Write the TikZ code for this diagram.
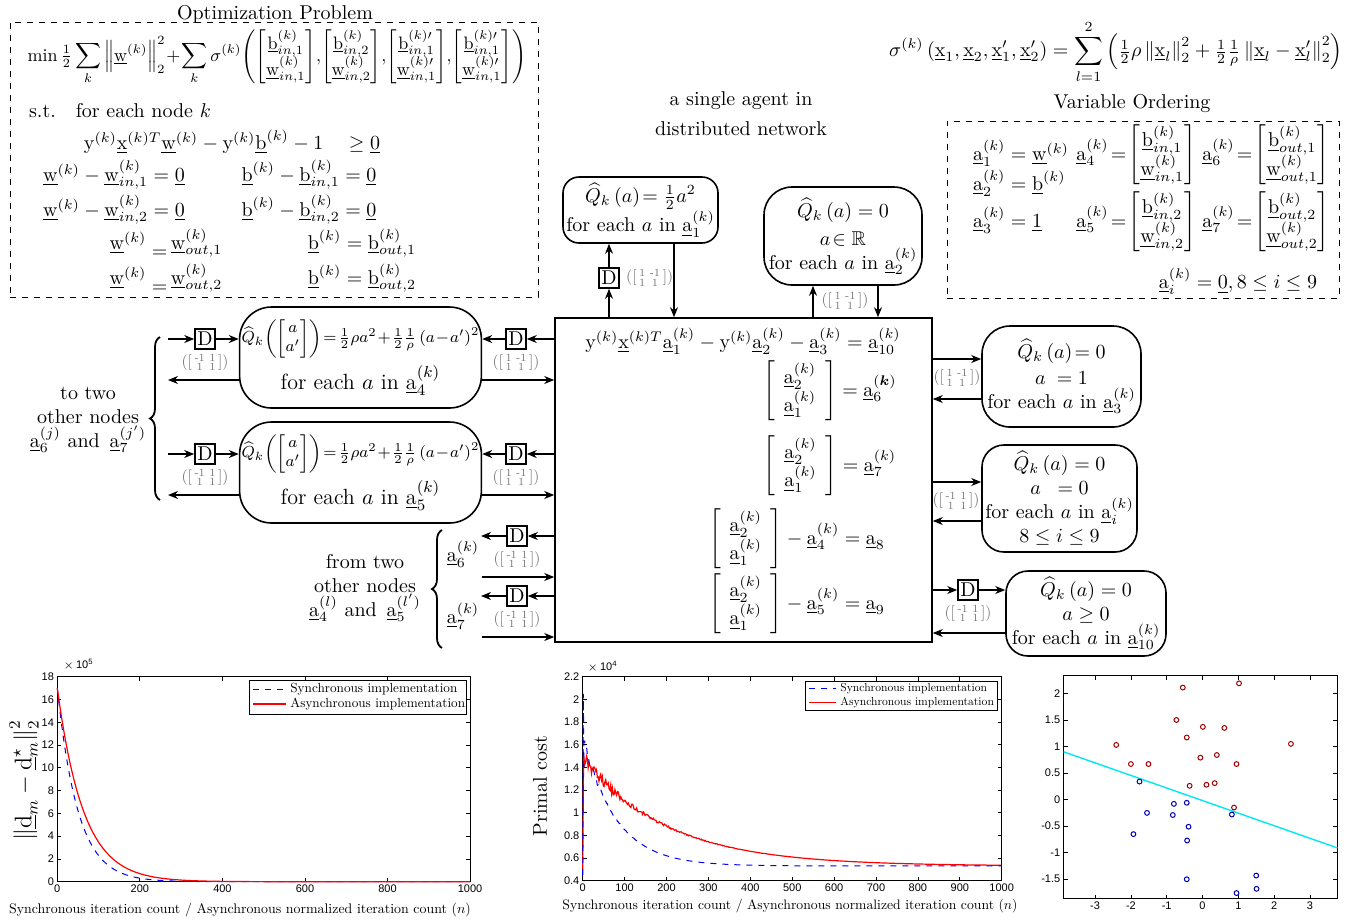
\documentclass[tikz,border=0pt]{standalone}
\usepackage{amsmath,amssymb}
\usepackage{graphicx}
\usepackage{fontspec}
\newfontfamily\tickfont{Liberation Sans}
\usetikzlibrary{arrows.meta,positioning,calc,decorations.pathreplacing}
\newcommand{\uvec}[1]{\underline{\mathrm{#1}}}
\newcommand{\mixmat}[2]{\textcolor{black!55}{\scalebox{0.78}{$\left(\left[\begin{smallmatrix}#1&#2\\1&1\end{smallmatrix}\right]\right)$}}}
\newcommand{\axistext}{Synchronous iteration count / Asynchronous normalized iteration count ($n$)}
\definecolor{ptred}{HTML}{A00000}
\definecolor{ptblue}{HTML}{0000B4}
\definecolor{sepcyan}{HTML}{00E8F0}
\tikzset{
  qbox/.style={draw, line width=0.8pt, rounded corners=#1, align=center, inner sep=1pt},
  qbox/.default=10pt,
  dbox/.style={draw, line width=0.8pt, inner sep=0.5pt, minimum width=10pt, minimum height=10pt},
  flow/.style={line width=0.75pt, -{Stealth[length=5pt,width=4pt]}},
  dashbox/.style={draw, dashed, line width=0.5pt},
  boxwh/.style 2 args={minimum width=#1*0.5pt, minimum height=#2*0.5pt},
  ticklab/.style={font=\tickfont\fontsize{5.5}{6}\selectfont, inner sep=1.5pt},
  legtxt/.style={anchor=west, inner sep=0pt},
  curly/.style={decorate, decoration={brace, amplitude=5pt}, line width=0.9pt},
}

\begin{document}
\begin{tikzpicture}[x=0.5pt,y=-0.5pt]
\useasboundingbox (0,0) rectangle (1360,923);

% optimization problem
\node (opttitle) at (275,14) {Optimization Problem};
\node[dashbox, boxwh={528}{275}] (optbox) at (274,159.5) {};
\node (objective) at (277,57) {\scalebox{0.9}{$\displaystyle\min\tfrac{1}{2}\sum_k\left\|\uvec{w}^{(k)}\right\|_2^2\!+\!\sum_k\sigma^{(k)}\!\left(\begin{bmatrix}\uvec{b}^{(k)}_{in,1}\\\uvec{w}^{(k)}_{in,1}\end{bmatrix}\!,\!\begin{bmatrix}\uvec{b}^{(k)}_{in,2}\\\uvec{w}^{(k)}_{in,2}\end{bmatrix}\!,\!\begin{bmatrix}\uvec{b}^{(k)\prime}_{in,1}\\\uvec{w}^{(k)\prime}_{in,1}\end{bmatrix}\!,\!\begin{bmatrix}\uvec{b}^{(k)\prime}_{in,1}\\\uvec{w}^{(k)\prime}_{in,1}\end{bmatrix}\right)$}};
\node[anchor=west] (st) at (22,111) {s.t.\quad for each node $k$};
\node (c0) at (232,142) {$\mathrm{y}^{(k)}\uvec{x}^{(k)T}\uvec{w}^{(k)}-\mathrm{y}^{(k)}\uvec{b}^{(k)}-1\quad\geq\uvec{0}$};
\node (cw1) at (114,175) {$\uvec{w}^{(k)}-\uvec{w}^{(k)}_{in,1}=\uvec{0}$};
\node (cb1) at (309,175) {$\uvec{b}^{(k)}-\uvec{b}^{(k)}_{in,1}=\uvec{0}$};
\node (cw2) at (114,210) {$\uvec{w}^{(k)}-\uvec{w}^{(k)}_{in,2}=\uvec{0}$};
\node (cb2) at (309,210) {$\uvec{b}^{(k)}-\uvec{b}^{(k)}_{in,2}=\uvec{0}$};
\node (cw3) at (166,243) {$\uvec{w}^{(k)}\;\lower4pt\hbox{$=$}\,\uvec{w}^{(k)}_{out,1}$};
\node (cb3) at (362,243) {$\uvec{b}^{(k)}=\uvec{b}^{(k)}_{out,1}$};
\node (cw4) at (166,278) {$\uvec{w}^{(k)}\;\lower4pt\hbox{$=$}\,\uvec{w}^{(k)}_{out,2}$};
\node (cb4) at (362,278) {$\uvec{b}^{(k)}=\uvec{b}^{(k)}_{out,2}$};

% penalty and variable ordering
\node (sigmadef) at (1116,52) {$\displaystyle\sigma^{(k)}\left(\uvec{x}_1,\uvec{x}_2,\uvec{x}_1',\uvec{x}_2'\right)=\sum_{l=1}^{2}\left(\tfrac{1}{2}\rho\left\|\uvec{x}_l\right\|_2^2+\tfrac{1}{2}\tfrac{1}{\rho}\left\|\uvec{x}_l-\uvec{x}_l'\right\|_2^2\right)$};
\node (vartitle) at (1132,104) {Variable Ordering};
\node[dashbox, boxwh={392}{177}] (varbox) at (1143,209.5) {};
\node[anchor=west] (va1) at (966,153) {$\uvec{a}_1^{(k)}=\uvec{w}^{(k)}$};
\node[anchor=west] (va2) at (966,183) {$\uvec{a}_2^{(k)}=\uvec{b}^{(k)}$};
\node[anchor=west] (va3) at (966,220) {$\uvec{a}_3^{(k)}=\uvec{1}$};
\node (va4) at (1136,155) {$\uvec{a}_4^{(k)}\!=\!\begin{bmatrix}\uvec{b}^{(k)}_{in,1}\\\uvec{w}^{(k)}_{in,1}\end{bmatrix}$};
\node (va5) at (1136,222) {$\uvec{a}_5^{(k)}\!=\!\begin{bmatrix}\uvec{b}^{(k)}_{in,2}\\\uvec{w}^{(k)}_{in,2}\end{bmatrix}$};
\node (va6) at (1266,155) {$\uvec{a}_6^{(k)}\!=\!\begin{bmatrix}\uvec{b}^{(k)}_{out,1}\\\uvec{w}^{(k)}_{out,1}\end{bmatrix}$};
\node (va7) at (1266,222) {$\uvec{a}_7^{(k)}\!=\!\begin{bmatrix}\uvec{b}^{(k)}_{out,2}\\\uvec{w}^{(k)}_{out,2}\end{bmatrix}$};
\node (vai) at (1238,281) {$\uvec{a}_i^{(k)}=\uvec{0},8\leq i\leq 9$};

% agent
\node[align=center] (agenttitle) at (741,114) {a single agent in\\[3pt]distributed network};
\node[draw, line width=0.8pt, boxwh={377}{324}] (agent) at (743.5,480) {};
\node (eq0) at (743,341) {$\mathrm{y}^{(k)}\uvec{x}^{(k)T}\uvec{a}_1^{(k)}-\mathrm{y}^{(k)}\uvec{a}_2^{(k)}-\uvec{a}_3^{(k)}=\uvec{a}_{10}^{(k)}$};
\node (eq6) at (830,391) {$\begin{bmatrix}\;\,\uvec{a}_2^{(k)}\;\,\\\;\,\uvec{a}_1^{(k)}\;\,\end{bmatrix}=\uvec{a}_6^{(\boldsymbol{k})}$};
\node (eq7) at (830,466) {$\begin{bmatrix}\;\,\uvec{a}_2^{(k)}\;\,\\\;\,\uvec{a}_1^{(k)}\;\,\end{bmatrix}=\uvec{a}_7^{(k)}$};
\node (eq8) at (797,539) {$\begin{bmatrix}\;\,\uvec{a}_2^{(k)}\;\,\\\;\,\uvec{a}_1^{(k)}\;\,\end{bmatrix}-\uvec{a}_4^{(k)}=\uvec{a}_8$};
\node (eq9) at (797,604) {$\begin{bmatrix}\;\,\uvec{a}_2^{(k)}\;\,\\\;\,\uvec{a}_1^{(k)}\;\,\end{bmatrix}-\uvec{a}_5^{(k)}=\uvec{a}_9$};

% top nodes
\node[qbox=8pt, boxwh={155}{66}] (q1) at (640.5,210) {$\widehat{Q}_k\left(a\right)\!=\tfrac{1}{2}a^2$\\for each $a$ in $\uvec{a}_1^{(k)}$};
\node[dbox] (d1) at (609,278) {D};
\node[right=3pt of d1, inner sep=0pt] (m1) {\mixmat{1}{\text{-}1}};
\coordinate (q1back) at (674,0);
\draw[flow] (agent.north -| d1) -- (d1);
\draw[flow] (d1) -- (q1.south -| d1);
\draw[flow] (q1.south -| q1back) -- (agent.north -| q1back);

\node[qbox=14pt, boxwh={158}{98}] (q2) at (843,236) {$\widehat{Q}_k\left(a\right)=0$\\[2pt]$a\!\in\mathbb{R}$\\for each $a$ in $\uvec{a}_2^{(k)}$};
\node[inner sep=0pt] (m2) at (845,301) {\mixmat{1}{\text{-}1}};
\coordinate (q2up) at (813,0);
\coordinate (q2down) at (878,0);
\draw[flow] (agent.north -| q2up) -- (q2.south -| q2up);
\draw[flow] (q2.south -| q2down) -- (agent.north -| q2down);

% left nodes
\node[qbox=16pt, boxwh={239}{101}] (q4) at (360.5,357.5) {{\footnotesize$\widehat{Q}_k\!\left(\begin{bmatrix}a\\a'\end{bmatrix}\right)\!=\!\tfrac{1}{2}\rho a^2\!+\!\tfrac{1}{2}\tfrac{1}{\rho}\left(a\!-\!a'\right)^2$}\\[3pt]{\fontsize{11}{13}\selectfont for each $a$ in $\uvec{a}_4^{(k)}$}};
\node[qbox=16pt, boxwh={239}{101}] (q5) at (360.5,472.5) {{\footnotesize$\widehat{Q}_k\!\left(\begin{bmatrix}a\\a'\end{bmatrix}\right)\!=\!\tfrac{1}{2}\rho a^2\!+\!\tfrac{1}{2}\tfrac{1}{\rho}\left(a\!-\!a'\right)^2$}\\[3pt]{\fontsize{11}{13}\selectfont for each $a$ in $\uvec{a}_5^{(k)}$}};
\node[dbox] (dl4) at (205,339) {D};
\node[below=2pt of dl4, inner sep=0pt] (ml4) {\mixmat{\text{-}1}{1}};
\node[dbox] (dr4) at (516,339) {D};
\node[below=2pt of dr4, inner sep=0pt] (mr4) {\mixmat{1}{\text{-}1}};
\node[dbox] (dl5) at (205,454) {D};
\node[below=2pt of dl5, inner sep=0pt] (ml5) {\mixmat{\text{-}1}{1}};
\node[dbox] (dr5) at (516,454) {D};
\node[below=2pt of dr5, inner sep=0pt] (mr5) {\mixmat{1}{\text{-}1}};
\coordinate (l4in) at (168,339);
\coordinate (l4out) at (168,380);
\coordinate (l5in) at (168,454);
\coordinate (l5out) at (168,495);
\draw[flow] (l4in) -- (dl4);
\draw[flow] (dl4) -- (q4.west |- dl4);
\draw[flow] (agent.west |- dr4) -- (dr4);
\draw[flow] (dr4) -- (q4.east |- dr4);
\draw[flow] (q4.west |- l4out) -- (l4out);
\draw[flow] (q4.east |- l4out) -- (agent.west |- l4out);
\draw[flow] (l5in) -- (dl5);
\draw[flow] (dl5) -- (q5.west |- dl5);
\draw[flow] (agent.west |- dr5) -- (dr5);
\draw[flow] (dr5) -- (q5.east |- dr5);
\draw[flow] (q5.west |- l5out) -- (l5out);
\draw[flow] (q5.east |- l5out) -- (agent.west |- l5out);
\draw[curly] (160,500) -- (160,337);
\node[align=center] (tonodes) at (88,420) {to two\\other nodes\\$\uvec{a}_6^{(j)}$ and\, $\uvec{a}_7^{(j')}$};

% from neighbours
\node[dbox] (dr6) at (517,536) {D};
\node[below=2pt of dr6, inner sep=0pt] (mr6) {\mixmat{\text{-}1}{1}};
\node[dbox] (dr7) at (517,596) {D};
\node[below=2pt of dr7, inner sep=0pt] (mr7) {\mixmat{\text{-}1}{1}};
\coordinate (r6end) at (481,536);
\coordinate (r6in) at (482,577);
\coordinate (r7end) at (481,596);
\coordinate (r7in) at (482,637);
\draw[flow] (agent.west |- dr6) -- (dr6);
\draw[flow] (dr6) -- (r6end);
\draw[flow] (r6in) -- (agent.west |- r6in);
\draw[flow] (agent.west |- dr7) -- (dr7);
\draw[flow] (dr7) -- (r7end);
\draw[flow] (r7in) -- (agent.west |- r7in);
\node (a6in) at (463,554) {$\uvec{a}_6^{(k)}$};
\node (a7in) at (463,616) {$\uvec{a}_7^{(k)}$};
\draw[curly] (442,648) -- (442,530);
\node[align=center] (fromnodes) at (365,588) {from two\\other nodes\\$\uvec{a}_4^{(l)}$ and\, $\uvec{a}_5^{(l')}$};

% right nodes
\node[qbox=14pt, boxwh={159}{101}] (q3) at (1061.5,376.5) {$\widehat{Q}_k\left(a\right)\!=0$\\[1pt]$a\;=1$\\for each $a$ in $\uvec{a}_3^{(k)}$};
\coordinate (q3a) at (0,359);
\coordinate (q3b) at (0,399);
\draw[flow] (agent.east |- q3a) -- (q3.west |- q3a);
\draw[flow] (q3.west |- q3b) -- (agent.east |- q3b);
\node[inner sep=0pt] (m3) at (957,378) {\mixmat{1}{\text{-}1}};

\node[qbox=11pt, boxwh={155}{107}] (qi) at (1059.5,498.5) {$\widehat{Q}_k\left(a\right)=0$\\$a\;\;=0$\\for each $a$ in $\uvec{a}_i^{(k)}$\\$8\leq i\leq 9$};
\coordinate (qia) at (0,482);
\coordinate (qib) at (0,521);
\draw[flow] (agent.east |- qia) -- (qi.west |- qia);
\draw[flow] (qi.west |- qib) -- (agent.east |- qib);
\node[inner sep=0pt] (mi) at (956,501) {\mixmat{\text{-}1}{1}};

\node[qbox=11pt, boxwh={160}{85}] (q10) at (1086,613.5) {$\widehat{Q}_k\left(a\right)=0$\\$a\geq 0$\\for each $a$ in $\uvec{a}_{10}^{(k)}$};
\node[dbox] (dq10) at (968,590) {D};
\node[below=2pt of dq10, inner sep=0pt] (m10) {\mixmat{\text{-}1}{1}};
\coordinate (q10b) at (0,633);
\draw[flow] (agent.east |- dq10) -- (dq10);
\draw[flow] (dq10) -- (q10.west |- dq10);
\draw[flow] (q10.west |- q10b) -- (agent.east |- q10b);

% plot 1: distance to optimum
\begin{scope}[shift={(57.3,881.7)}]
\begin{scope}[x=0.2064pt,y=5.694pt]
\draw[line width=0.5pt] (0,0) rectangle (1000,18);
\foreach \v in {0,2,...,18} {
  \draw[line width=0.4pt] (0,\v) -- ++(2pt,0) (1000,\v) -- ++(-2pt,0);
  \node[ticklab, left] at (0,\v) {\v};
}
\foreach \v in {0,200,...,1000} {
  \draw[line width=0.4pt] (\v,0) -- ++(0,2pt) (\v,18) -- ++(0,-2pt);
  \node[ticklab, below] at (\v,0) {\v};
}
\draw[blue, dashed, line width=0.5pt] plot[domain=0:1000, samples=200] (\x,{17*exp(-\x/50)});
\draw[red, line width=0.6pt] plot[domain=0:1000, samples=200] (\x,{17*exp(-\x/63)});
\end{scope}
\end{scope}
\node[ticklab, anchor=west] (scale1) at (60,665) {$\times$\,10\textsuperscript{5}};
\node[rotate=90, font=\large] (ylab1) at (24,780) {$\left\|\uvec{d}_m-\uvec{d}_m^{\star}\right\|_2^2$};
\node (xlab1) at (240,910) {\scalebox{0.695}{\axistext}};
\node[draw, fill=white, line width=0.5pt, boxwh={217}{34}] (leg1) at (357.5,697) {};
\draw[blue, dashed, line width=0.5pt] (253,689) -- (286,689);
\draw[red, line width=0.6pt] (253,704) -- (286,704);
\node[legtxt] (leg1a) at (290,689) {\scalebox{0.66}{Synchronous implementation}};
\node[legtxt] (leg1b) at (290,704) {\scalebox{0.66}{Asynchronous implementation}};

% plot 2: primal cost
\pgfmathsetseed{7}
\begin{scope}[shift={(582.7,880.7)}]
\begin{scope}[x=0.2095pt,y=56.65pt,shift={(0,-0.4)}]
\draw[line width=0.5pt] (0,0.4) rectangle (1000,2.2);
\foreach \v in {0.4,0.6,0.8,1,1.2,1.4,1.6,1.8,2,2.2} {
  \draw[line width=0.4pt] (0,\v) -- ++(2pt,0) (1000,\v) -- ++(-2pt,0);
  \node[ticklab, left] at (0,\v) {\v};
}
\foreach \v in {0,100,...,1000} {
  \draw[line width=0.4pt] (\v,0.4) -- ++(0,2pt) (\v,2.2) -- ++(0,-2pt);
  \node[ticklab, below] at (\v,0.4) {\v};
}
\draw[red, line width=0.6pt] (0,0.45) -- (2,1.5) -- plot[domain=3:1000, samples=500] (\x,{0.53+0.95*exp(-\x/201)+0.07*rand*exp(-\x/100)});
\draw[blue, dashed, line width=0.5pt] (0,0.45) -- (1.5,2.05) -- (3,1.4) -- plot[domain=3:1000, samples=500] (\x,{0.53+1.14*exp(-\x/79)+0.05*rand*exp(-\x/40)});
\end{scope}
\end{scope}
\node[ticklab, anchor=west] (scale2) at (584,667) {$\times$\,10\textsuperscript{4}};
\node[rotate=90] (ylab2) at (540,786) {Primal cost};
\node (xlab2) at (790,906) {\scalebox{0.685}{\axistext}};
\node[draw, fill=white, line width=0.5pt, boxwh={192}{29}] (leg2) at (901,695.5) {};
\draw[blue, dashed, line width=0.5pt] (809,688.5) -- (836,688.5);
\draw[red, line width=0.6pt] (809,702.5) -- (836,702.5);
\node[legtxt] (leg2a) at (840,688.5) {\scalebox{0.58}{Synchronous implementation}};
\node[legtxt] (leg2b) at (840,702.5) {\scalebox{0.58}{Asynchronous implementation}};

% plot 3: separating line
\begin{scope}[shift={(1202.5,799.6)}]
\begin{scope}[x=17.9pt,y=26.55pt]
\draw[line width=0.5pt] (-3.88,-1.87) rectangle (3.77,2.33);
\foreach \v in {-1.5,-1,-0.5,0,0.5,1,1.5,2} {
  \draw[line width=0.4pt] (-3.88,\v) -- ++(2pt,0) (3.77,\v) -- ++(-2pt,0);
  \node[ticklab, left] at (-3.88,\v) {\v};
}
\foreach \v in {-3,...,3} {
  \draw[line width=0.4pt] (\v,-1.87) -- ++(0,2pt) (\v,2.33) -- ++(0,-2pt);
  \node[ticklab, below] at (\v,-1.87) {\v};
}
\draw[sepcyan, line width=0.7pt] (-3.88,0.90) -- (3.77,-0.91);
\foreach \px/\py in {-2.41/1.03,-2.0/0.67,-1.51/0.67,-0.55/2.11,-0.73/1.5,-0.44/1.17,0.01/1.37,0.61/1.35,1.02/2.19,2.47/1.05,-0.06/0.79,0.4/0.84,0.95/0.67,-0.36/0.26,0.11/0.28,0.34/0.31,0.88/-0.15}
  \draw[ptred, line width=0.5pt] (\px,\py) circle (1.2pt);
\foreach \px/\py in {-1.76/0.34,-1.55/-0.25,-1.93/-0.65,-0.8/-0.08,-0.83/-0.29,-0.44/-0.06,-0.39/-0.51,-0.43/-0.77,-0.44/-1.5,0.82/-0.28,1.5/-1.43,1.51/-1.68,0.95/-1.76}
  \draw[ptblue, line width=0.5pt] (\px,\py) circle (1.2pt);
\end{scope}
\end{scope}

\end{tikzpicture}
\end{document}
